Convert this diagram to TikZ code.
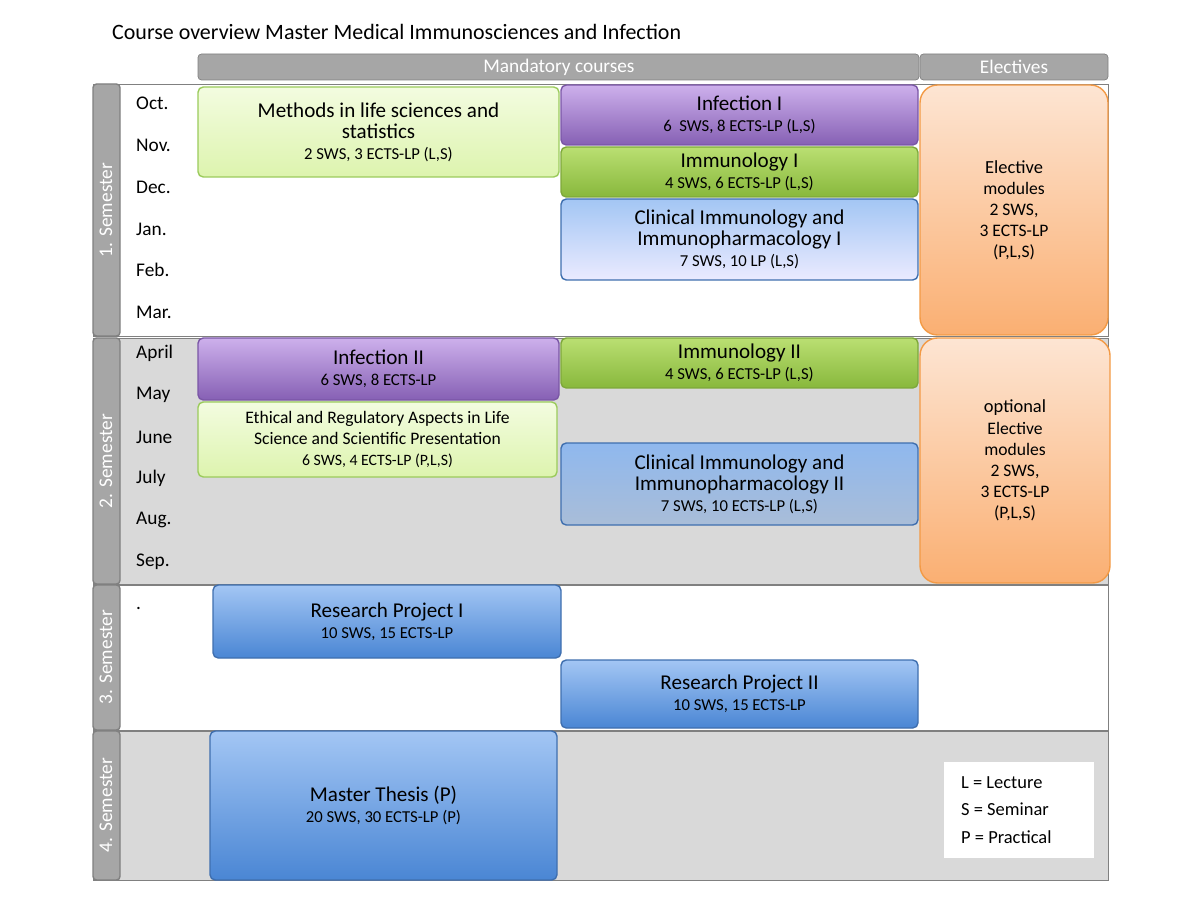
\documentclass[tikz,border=0pt]{standalone}
\usepackage{fontspec}
\setmainfont{Carlito}
\usetikzlibrary{calc}
\definecolor{hdrgray}{HTML}{A6A6A6}
\definecolor{rowgray}{HTML}{D9D9D9}
\definecolor{tabgray}{HTML}{A6A6A6}
\definecolor{lgtop}{HTML}{F3FCE0}
\definecolor{lgbot}{HTML}{DDF4AE}
\definecolor{lgline}{HTML}{9BCB5C}
\definecolor{putop}{HTML}{CDB0EC}
\definecolor{pubot}{HTML}{8660B4}
\definecolor{puline}{HTML}{7A56A6}
\definecolor{grtop}{HTML}{BADF72}
\definecolor{grbot}{HTML}{88B83C}
\definecolor{grline}{HTML}{7EA83A}
\definecolor{bltop}{HTML}{A3C6F4}
\definecolor{blbot}{HTML}{4A86D4}
\definecolor{blline}{HTML}{3F6FAF}
\definecolor{mbtop}{HTML}{8FB8EE}
\definecolor{mbbot}{HTML}{A9BDD8}
\definecolor{ortop}{HTML}{FDE5D3}
\definecolor{orbot}{HTML}{FAAF72}
\definecolor{orline}{HTML}{F39A45}
\tikzset{
  course/.style={draw,rounded corners=3pt,line width=0.8pt},
  lgreen/.style={course,draw=lgline,top color=lgtop,bottom color=lgbot},
  purple/.style={course,draw=puline,top color=putop,bottom color=pubot},
  green/.style={course,draw=grline,top color=grtop,bottom color=grbot},
  blue/.style={course,draw=blline,top color=bltop,bottom color=blbot},
  paleblue/.style={course,draw=blline,top color=bltop,bottom color=white!92!blue},
  midblue/.style={course,draw=blline,top color=mbtop,bottom color=mbbot},
  orange/.style={draw=orline,rounded corners=10pt,line width=0.8pt,top color=ortop,bottom color=orbot},
  month/.style={anchor=west,font=\fontsize{11}{13}\selectfont},
  semtab/.style={draw=gray,fill=tabgray,line width=0.8pt},
  semlabel/.style={rotate=90,text=white,font=\fontsize{11}{13}\selectfont}
}
\newcommand*\bigtxt{\fontsize{12}{15}\selectfont}
\newcommand*\smltxt{\fontsize{9.5}{12}\selectfont}
% box with centred text
\newcommand*\course[7]{%
  \path[#6] (#2,#3) rectangle (#4,#5);
  \node[align=center] (#1) at ($(#2,#3)!0.5!(#4,#5)$) {#7};}
\begin{document}
\begin{tikzpicture}[x=0.02cm,y=-0.02cm]
\useasboundingbox (0,0) rectangle (1200,898);
\node[anchor=west,font=\fontsize{12.5}{15}\selectfont] (head) at (106,32) {Course overview Master Medical Immunosciences and Infection};
% header bars
\path[fill=hdrgray,draw=gray,rounded corners=2pt] (198,54) rectangle (919,80);
\node[text=white,font=\fontsize{11}{13}\selectfont] (mand) at (559,67) {Mandatory courses};
\path[fill=hdrgray,draw=gray,rounded corners=2pt] (920,54) rectangle (1108,80);
\node[text=white,font=\fontsize{11}{13}\selectfont] (elec) at (1014,67) {Electives};
% semester rows
\draw[gray,fill=white] (93,84) rectangle (1108,336);
\draw[gray,fill=rowgray] (93,338) rectangle (1108,584);
\draw[gray,fill=white] (93,585) rectangle (1108,730);
\draw[gray,fill=rowgray] (93,731) rectangle (1108,880);
\path[semtab,rounded corners=2pt] (93,84) rectangle (120,336);
\path[semtab,rounded corners=2pt] (93,338) rectangle (120,584);
\path[semtab,rounded corners=2pt] (93,585) rectangle (120,730);
\path[semtab,rounded corners=2pt] (93,731) rectangle (120,880);
\node[semlabel] (sem1) at (106,210) {1. Semester};
\node[semlabel] (sem2) at (106,461) {2. Semester};
\node[semlabel] (sem3) at (106,657) {3. Semester};
\node[semlabel] (sem4) at (106,805) {4. Semester};
% months
\foreach \m/\y in {Oct./103,Nov./145,Dec./187,Jan./229,Feb./270,Mar./312,
                   April/353,May/395,June/437,July/478,Aug./520,Sep./562}
  \node[month] at (130,\y) {\m};
\node[month] (dot) at (130,608) {.};
% semester 1
\course{meth}{198}{87}{559}{177}{lgreen}{\bigtxt Methods in life sciences and\\\bigtxt statistics\\\smltxt 2 SWS, 3 ECTS-LP (L,S)}
\course{inf1}{561}{85}{918}{145}{purple}{\bigtxt Infection I\\\smltxt 6\ \ SWS, 8 ECTS-LP (L,S)}
\course{imm1}{561}{147}{918}{197}{green}{\bigtxt Immunology I\\\smltxt 4 SWS, 6 ECTS-LP (L,S)}
\course{cli1}{561}{199}{918}{280}{paleblue}{\bigtxt Clinical Immunology and\\\bigtxt Immunopharmacology I\\\smltxt 7 SWS, 10 LP (L,S)}
\course{ele1}{920}{85}{1108}{335}{orange}{\fontsize{10.5}{16}\selectfont Elective\\modules\\2 SWS,\\3 ECTS-LP\\(P,L,S)}
% semester 2
\course{inf2}{198}{338}{559}{400}{purple}{\bigtxt Infection II\\\smltxt 6 SWS, 8 ECTS-LP}
\course{imm2}{561}{338}{918}{388}{green}{\bigtxt Immunology II\\\smltxt 4 SWS, 6 ECTS-LP (L,S)}
\course{eth}{198}{402}{557}{477}{lgreen}{\fontsize{10}{13}\selectfont Ethical and Regulatory Aspects in Life\\\fontsize{10}{13}\selectfont Science and Scientific Presentation\\\fontsize{9}{11}\selectfont 6 SWS, 4 ECTS-LP (P,L,S)}
\course{cli2}{561}{443}{918}{525}{midblue}{\bigtxt Clinical Immunology and\\\bigtxt Immunopharmacology II\\\smltxt 7 SWS, 10 ECTS-LP (L,S)}
\course{ele2}{920}{338}{1110}{583}{orange}{\fontsize{10.5}{16}\selectfont optional\\Elective\\modules\\2 SWS,\\3 ECTS-LP\\(P,L,S)}
% semester 3 and 4
\course{res1}{213}{585}{561}{658}{blue}{\bigtxt Research Project I\\\smltxt 10 SWS, 15 ECTS-LP}
\course{res2}{561}{660}{918}{728}{blue}{\bigtxt Research Project II\\\smltxt 10 SWS, 15 ECTS-LP}
\course{thes}{210}{731}{557}{880}{blue}{\bigtxt Master Thesis (P)\\\smltxt 20 SWS, 30 ECTS-LP (P)}
% legend
\path[fill=white] (944,762) rectangle (1094,858);
\node[anchor=west,align=left,font=\fontsize{10.5}{15.5}\selectfont] (legend) at (955,810) {L = Lecture\\S = Seminar\\P = Practical};
\end{tikzpicture}
\end{document}
